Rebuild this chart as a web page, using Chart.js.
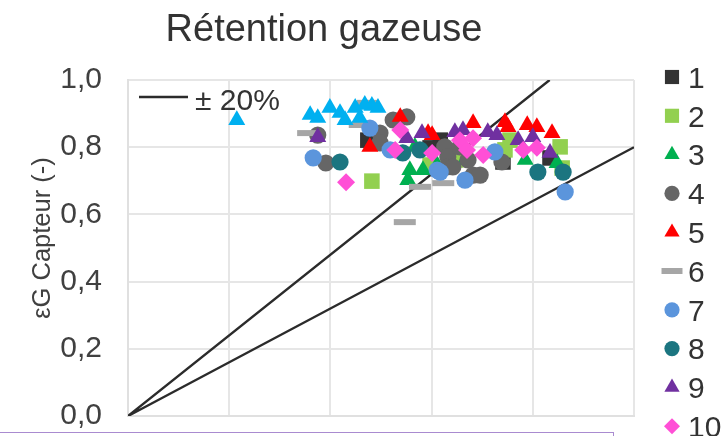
<!DOCTYPE html>
<html>
<head>
<meta charset="utf-8">
<script src="https://cdn.jsdelivr.net/npm/chart.js@4.4.1/dist/chart.umd.min.js"></script>
<style>
  html, body { margin: 0; padding: 0; background: #fff; overflow: hidden; }
  #wrap { position: relative; width: 725px; height: 436px; }
  #cadre { position: absolute; left: 0; top: 432px; width: 613px; height: 10px;
           border-top: 1px solid #a98bd0; border-right: 1px solid #a98bd0; }
</style>
</head>
<body>
<div id="wrap">
  <canvas id="retention" width="725" height="436"></canvas>
  <div id="cadre"></div>
</div>
<script>
// Rétention gazeuse : valeur capteur en fonction de la référence, essais 1 à 11
const yTicks = [0, 0.2, 0.4, 0.6, 0.8, 1.0];

const essai1 = [[0.474, 0.821], [0.617, 0.821], [0.741, 0.756], [0.834, 0.768], [0.597, 0.798]];
const essai2 = [[0.482, 0.699], [0.745, 0.792], [0.854, 0.801], [0.858, 0.738], [0.648, 0.762], [0.597, 0.747], [0.755, 0.821]];
const essai3 = [[0.553, 0.702], [0.557, 0.732], [0.583, 0.732], [0.567, 0.801], [0.785, 0.762], [0.848, 0.753], [0.666, 0.762], [0.611, 0.747]];
const essai4 = [[0.391, 0.753], [0.375, 0.836], [0.524, 0.881], [0.551, 0.890], [0.498, 0.842], [0.498, 0.813], [0.626, 0.801],
                [0.632, 0.771], [0.630, 0.741], [0.656, 0.801], [0.672, 0.762], [0.682, 0.717], [0.642, 0.741], [0.739, 0.756], [0.696, 0.717]];
const essai5 = [[0.478, 0.801], [0.593, 0.842], [0.538, 0.890], [0.682, 0.872], [0.745, 0.875], [0.751, 0.860], [0.789, 0.866],
                [0.808, 0.860], [0.838, 0.842], [0.601, 0.836]];
const essai6 = [[0.356, 0.842], [0.474, 0.932], [0.458, 0.866], [0.577, 0.682], [0.623, 0.693], [0.547, 0.577]];
const essai7 = [[0.366, 0.768], [0.478, 0.857], [0.518, 0.792], [0.611, 0.732], [0.617, 0.726], [0.666, 0.702], [0.725, 0.786], [0.864, 0.667]];
const essai8 = [[0.419, 0.756], [0.543, 0.783], [0.810, 0.726], [0.860, 0.726], [0.577, 0.792]];
const essai9 = [[0.375, 0.830], [0.551, 0.827], [0.581, 0.842], [0.646, 0.845], [0.662, 0.851], [0.711, 0.845], [0.729, 0.836],
                [0.771, 0.821], [0.800, 0.830], [0.834, 0.783]];
const essai10 = [[0.431, 0.696], [0.528, 0.792], [0.538, 0.851], [0.601, 0.783], [0.682, 0.827], [0.702, 0.777], [0.656, 0.821],
                 [0.670, 0.792], [0.781, 0.792], [0.808, 0.798]];
const essai11 = [[0.215, 0.881], [0.360, 0.896], [0.375, 0.887], [0.399, 0.917], [0.419, 0.902], [0.429, 0.881], [0.449, 0.917],
                 [0.458, 0.887], [0.468, 0.926], [0.482, 0.923], [0.494, 0.917]];

// droites +20 % et -20 % passant par l'origine (tracé continu : haut -> origine -> bas)
const ecart20 = [[0.8333, 1.0], [0, 0], [1.0, 0.8]];

const noms = ["1", "2", "3", "4", "5", "6", "7", "8", "9", "10", "11"];
const essais = [essai1, essai2, essai3, essai4, essai5, essai6, essai7, essai8, essai9, essai10, essai11];
const couleurs = ["#333333", "#92D050", "#00B050", "#666666", "#FF0000", "#A6A6A6", "#5B95DC", "#1B7580", "#7030A0", "#FF4FD6", "#00B0F0"];
const formes = ["rect", "rect", "triangle", "circle", "triangle", "line", "circle", "circle", "triangle", "rectRot", "triangle"];

const police = "'Liberation Sans', Arial, sans-serif";

function rayon(forme) {
    switch (forme) {
        case "rect": return 11;
        case "triangle": return 9.8;
        case "line": return 11;
        case "rectRot": return 9;
        default: return 8.6;
    }
}

const datasets = essais.map((pts, i) => ({
    label: noms[i],
    data: pts.map(p => ({ x: p[0], y: p[1] })),
    pointStyle: formes[i],
    pointRadius: rayon(formes[i]),
    pointHoverRadius: rayon(formes[i]),
    pointBackgroundColor: couleurs[i],
    pointBorderColor: couleurs[i],
    pointBorderWidth: formes[i] === "line" ? 6 : 0,
    showLine: false,
    order: essais.length - i
}));

datasets.push({
    label: "± 20%",
    data: ecart20.map(p => ({ x: p[0], y: p[1] })),
    showLine: true,
    borderColor: "#2b2b2b",
    borderWidth: 2.4,
    pointRadius: 0,
    order: 100
});

// titre, titre d'axe et légendes dessinés à la main
const decor = {
    id: "decor",
    afterDraw(chart) {
        const ctx = chart.ctx;
        ctx.save();

        ctx.fillStyle = "#333333";
        ctx.font = "38px " + police;
        ctx.textAlign = "center";
        ctx.textBaseline = "alphabetic";
        ctx.fillText("Rétention gazeuse", 324, 41);

        ctx.save();
        ctx.translate(50, 238);
        ctx.rotate(-Math.PI / 2);
        ctx.textAlign = "center";
        ctx.font = "25.5px " + police;
        ctx.fillStyle = "#404040";
        ctx.fillText("εG Capteur (-)", 0, 0);
        ctx.restore();

        // légende à droite (essais 1 à 10)
        ctx.font = "30px " + police;
        ctx.textAlign = "left";
        for (let i = 0; i < 10; i++) {
            const y = 77 + i * 38.8;
            ctx.fillStyle = couleurs[i];
            ctx.strokeStyle = couleurs[i];
            ctx.lineWidth = 6;
            Chart.helpers.drawPoint(ctx, {
                pointStyle: formes[i],
                radius: formes[i] === "line" ? 10.5 : rayon(formes[i]) - 1,
                rotation: 0,
                borderWidth: formes[i] === "line" ? 6 : 0
            }, 672, y);
            ctx.fillStyle = "#333333";
            ctx.fillText(noms[i], 688, y + 10.7);
        }

        // légende de la droite ± 20 %
        ctx.strokeStyle = "#2b2b2b";
        ctx.lineWidth = 2.4;
        ctx.beginPath();
        ctx.moveTo(139, 97);
        ctx.lineTo(188, 97);
        ctx.stroke();
        ctx.fillStyle = "#333333";
        ctx.fillText("± 20%", 195, 99 + 10.7);

        ctx.restore();
    }
};

new Chart(document.getElementById("retention"), {
    type: "scatter",
    data: { datasets },
    options: {
        responsive: false,
        animation: false,
        layout: { padding: { top: 80, right: 91, bottom: 0, left: 0 } },
        plugins: {
            legend: { display: false },
            title: { display: false },
            tooltip: { enabled: false }
        },
        scales: {
            x: {
                type: "linear",
                min: 0,
                max: 1,
                ticks: { display: false, stepSize: 0.2 },
                grid: { color: "#e6e6e6", lineWidth: 2, drawTicks: false },
                border: { color: "#e0e0e0", width: 2 },
                afterFit: s => { s.height = 20; }
            },
            y: {
                type: "linear",
                min: 0,
                max: 1,
                afterBuildTicks: s => { s.ticks = yTicks.map(v => ({ value: v })); },
                ticks: {
                    padding: 1,
                    color: "#404040",
                    font: { family: police, size: 30 },
                    callback: v => v.toFixed(1).replace(".", ",")
                },
                // traits de graduation invisibles : ils écartent les libellés de l'axe
                grid: { color: "#e6e6e6", lineWidth: 2, drawTicks: true, tickLength: 25, tickColor: "rgba(0,0,0,0)" },
                border: { color: "#e0e0e0", width: 2 },
                afterFit: s => { s.width = 128; }
            }
        }
    },
    plugins: [decor]
});
</script>
</body>
</html>
